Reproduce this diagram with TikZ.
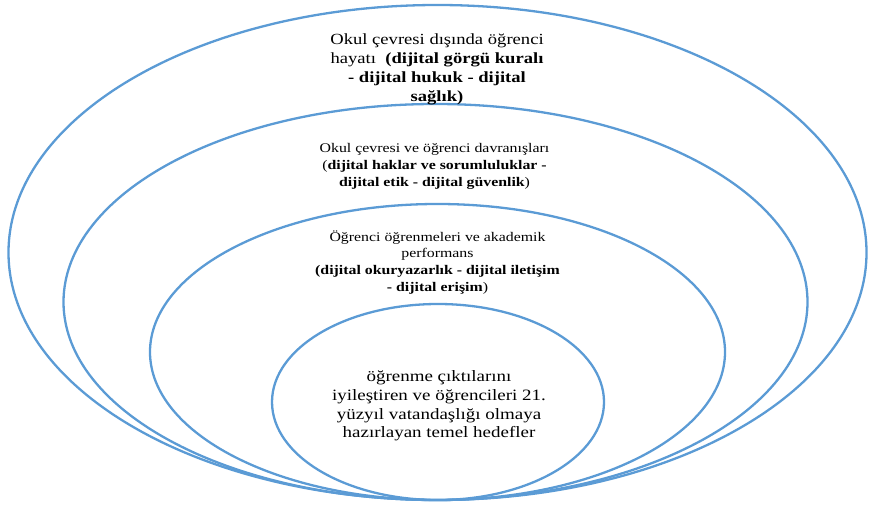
\documentclass[tikz,border=0pt]{standalone}
\usepackage{fontspec}
\setmainfont{Liberation Serif}
\newfontfamily\outerfont{Liberation Serif}[FakeStretch=1.2]
\newfontfamily\midfont{Liberation Serif}[FakeStretch=1.2]
\newfontfamily\innerfont{Liberation Serif}[FakeStretch=1.2]
\usepackage{tikz}
\usetikzlibrary{shapes.geometric}
\definecolor{ringblue}{RGB}{91,155,213}

\begin{document}
\begin{tikzpicture}[x=1pt, y=-1pt,
  ring/.style={ellipse, draw=ringblue, line width=2.3pt, inner sep=0pt},
  big/.style={align=center, font=\outerfont\fontsize{15.5}{19.2}\selectfont},
  small/.style={align=center, font=\midfont\fontsize{13.2}{16.7}\selectfont},
  core/.style={align=center, font=\innerfont\fontsize{15.8}{18.8}\selectfont}]
  \useasboundingbox (0,0) rectangle (872,505);
  % nested rings, all touching at the bottom
  \node[ring, minimum width=858pt, minimum height=495pt] (e1) at (437.5,252.5) {};
  \node[ring, minimum width=744pt, minimum height=396pt] (e2) at (435.5,302) {};
  \node[ring, minimum width=575pt, minimum height=296pt] (e3) at (437.5,352) {};
  \node[ring, minimum width=332pt, minimum height=196pt] (e4) at (438,402) {};
  % texts
  \node[big] (t1) at (437,69.5) {Okul çevresi dışında öğrenci\\
    hayatı~ \textbf{(dijital görgü kuralı}\\
    \textbf{- dijital hukuk - dijital}\\
    \textbf{sağlık)}};
  \node[small] (t2) at (434.5,166.5) {Okul çevresi ve öğrenci davranışları\\
    (\textbf{dijital haklar ve sorumluluklar -}\\
    \textbf{dijital etik - dijital güvenlik})};
  \node[small] (t3) at (437.5,262.4) {Öğrenci öğrenmeleri ve akademik\\
    performans\\
    \textbf{(dijital okuryazarlık - dijital iletişim}\\
    \textbf{- dijital erişim})};
  \node[core] (t4) at (439,406) {öğrenme çıktılarını\\
    iyileştiren ve öğrencileri 21.\\
    yüzyıl vatandaşlığı olmaya\\
    hazırlayan temel hedefler};
\end{tikzpicture}
\end{document}
